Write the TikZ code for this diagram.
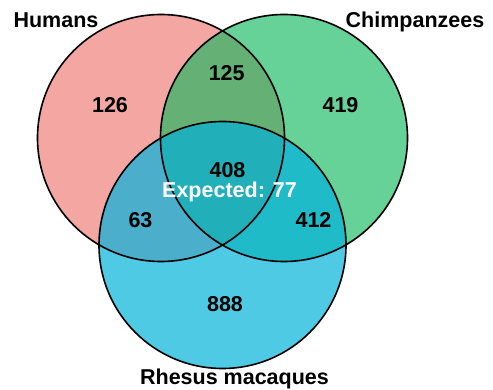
\documentclass[tikz,border=0pt]{standalone}
\usepackage{fontspec}
\setmainfont{Liberation Sans}
\definecolor{hcol}{HTML}{F4A6A2}
\definecolor{ccol}{HTML}{66D297}
\definecolor{rcol}{HTML}{4ECAE4}
\definecolor{hccol}{HTML}{65B074}
\definecolor{hrcol}{HTML}{4BAECB}
\definecolor{crcol}{HTML}{20BBC8}
\definecolor{hcrcol}{HTML}{21AFB9}
\tikzset{
  lbl/.style={inner sep=0pt, anchor=base, font=\bfseries\fontsize{21.5}{21.5}\selectfont},
  num/.style={lbl, text=black},
  ring/.style={draw=black, line width=1.6pt},
}
\begin{document}
\begin{tikzpicture}[x=1pt,y=-1pt]
\useasboundingbox (0,0) rectangle (493,390);
\def\R{123.5}
\coordinate (hc) at (161,138);
\coordinate (cc) at (284,138);
\coordinate (rc) at (222.5,245);
% single fills
\fill[hcol] (hc) circle (\R);
\fill[ccol] (cc) circle (\R);
\fill[rcol] (rc) circle (\R);
% pairwise
\begin{scope}
  \clip (hc) circle (\R);
  \fill[hccol] (cc) circle (\R);
\end{scope}
\begin{scope}
  \clip (hc) circle (\R);
  \fill[hrcol] (rc) circle (\R);
\end{scope}
\begin{scope}
  \clip (cc) circle (\R);
  \fill[crcol] (rc) circle (\R);
\end{scope}
\begin{scope}
  \clip (hc) circle (\R);
  \clip (cc) circle (\R);
  \fill[hcrcol] (rc) circle (\R);
\end{scope}
% outlines
\draw[ring] (hc) circle (\R);
\draw[ring] (cc) circle (\R);
\draw[ring] (rc) circle (\R);
% labels
\node[lbl] (lh) at (56,27.7) {Humans};
\node[lbl] (lc) at (415,27.5) {Chimpanzees};
\node[lbl] (lr) at (234.5,384.5) {Rhesus macaques};
% counts
\node[num] (n126) at (110,112.7) {126};
\node[num] (n125) at (226.7,80.2) {125};
\node[num] (n419) at (340.5,112.7) {419};
\node[num] (n408) at (227.5,177.7) {408};
\node[lbl, text=white] (nexp) at (229.5,197.5) {Expected: 77};
\node[num] (n63) at (140.5,227.2) {63};
\node[num] (n412) at (313.5,227.2) {412};
\node[num] (n888) at (225,311.2) {888};
\end{tikzpicture}
\end{document}
